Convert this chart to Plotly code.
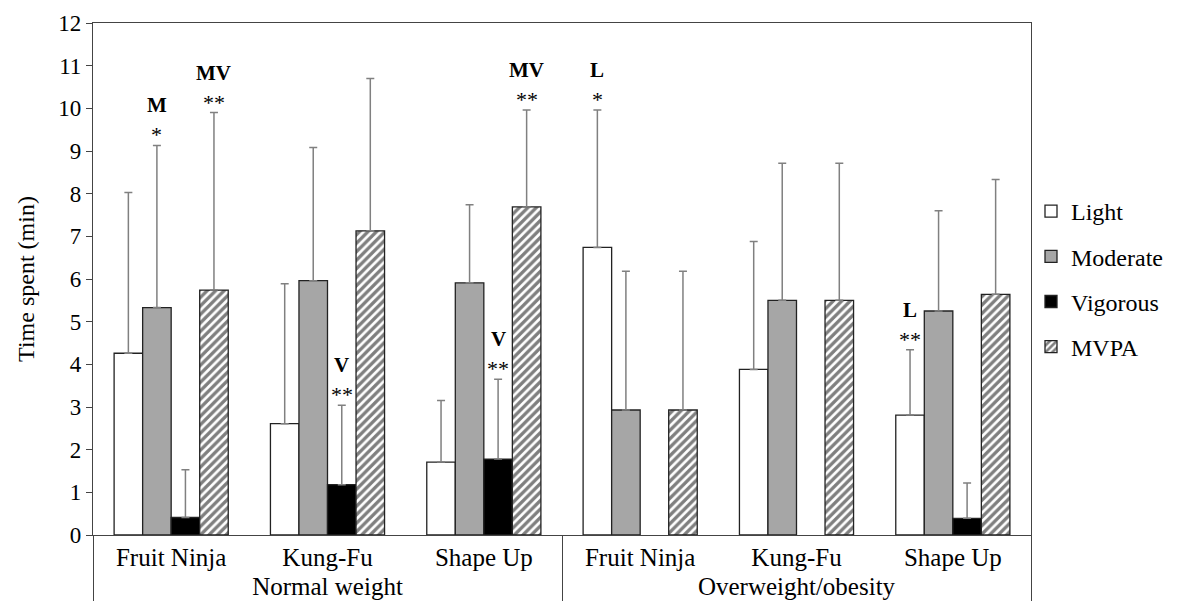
import plotly.graph_objects as go

# ---- data ----
weight_groups = ["Normal weight"] * 3 + ["Overweight/obesity"] * 3
games = ["Fruit Ninja", "Kung-Fu", "Shape Up"] * 2

light = [4.26, 2.61, 1.71, 6.74, 3.88, 2.81]
light_sd = [3.77, 3.28, 1.44, 3.22, 3.00, 1.53]
moderate = [5.33, 5.96, 5.91, 2.93, 5.50, 5.25]
moderate_sd = [3.80, 3.12, 1.83, 3.25, 3.21, 2.35]
vigorous = [0.41, 1.18, 1.78, None, None, 0.39]
vigorous_sd = [1.12, 1.86, 1.87, None, None, 0.83]
mvpa = [5.74, 7.13, 7.69, 2.93, 5.50, 5.64]
mvpa_sd = [4.16, 3.57, 2.27, 3.25, 3.21, 2.69]

series_names = ["Light", "Moderate", "Vigorous", "MVPA"]

# significance marks: (category index, series index, letter, stars)
sig_cat = [0, 0, 1, 2, 2, 3, 5]
sig_series = [1, 3, 2, 2, 3, 0, 0]
sig_letter = ["M", "MV", "V", "V", "MV", "L", "L"]
sig_stars = ["*", "**", "**", "**", "**", "*", "**"]

# ---- styling ----
FONT = "Liberation Serif"
BARGAP = 0.27
edge = "#222222"
err_color = "#808080"

values = [light, moderate, vigorous, mvpa]
sds = [light_sd, moderate_sd, vigorous_sd, mvpa_sd]
fills = ["#ffffff", "#a6a6a6", "#000000", "#ffffff"]

fig = go.Figure()
x2d = [weight_groups, games]
for i, name in enumerate(series_names):
    marker = dict(color=fills[i], line=dict(color=edge, width=1.3))
    if name == "MVPA":
        marker["pattern"] = dict(shape="/", fgcolor="#000000", bgcolor="#ffffff",
                                 size=6, solidity=0.55)
    fig.add_trace(go.Bar(
        x=x2d, y=values[i], name=name, legendgroup=name,
        marker=marker,
        error_y=dict(type="data", symmetric=False, array=sds[i],
                     arrayminus=[0] * len(sds[i]),
                     color=err_color, thickness=1.5, width=4),
    ))

# annotations above error bars
n_series = len(series_names)
bw = (1 - BARGAP) / n_series
for c, s, let, st in zip(sig_cat, sig_series, sig_letter, sig_stars):
    top = values[s][c] + sds[s][c]
    xpos = c - (1 - BARGAP) / 2 + (s + 0.5) * bw
    fig.add_annotation(
        x=xpos, y=top, xref="x", yref="y",
        text=st, showarrow=False,
        yanchor="bottom", xanchor="center", yshift=-4,
        font=dict(family=FONT, size=22, color="#000"),
    )
    fig.add_annotation(
        x=xpos, y=top, xref="x", yref="y",
        text=f"<b>{let}</b>", showarrow=False,
        yanchor="bottom", xanchor="center", yshift=26,
        font=dict(family=FONT, size=21, color="#000"),
    )

# page body has an 8px margin, so the figure is 8px smaller than the window
fig.update_layout(
    width=1169, height=600,
    margin=dict(l=85, r=146, t=15, b=73, autoexpand=False),
    paper_bgcolor="white", plot_bgcolor="white",
    barmode="group", bargap=BARGAP, bargroupgap=0,
    font=dict(family=FONT, size=25, color="#000"),
    legend=dict(x=1.0, y=0.5, xanchor="left", yanchor="middle",
                font=dict(family=FONT, size=24, color="#000"),
                traceorder="grouped", tracegroupgap=11, itemwidth=30,
                bgcolor="rgba(0,0,0,0)"),
    showlegend=True,
)
fig.update_xaxes(
    showline=True, linecolor="#444", linewidth=1.2, mirror=True,
    ticks="", showgrid=False, showdividers=True,
    dividercolor="#444", dividerwidth=1.2, automargin=False,
    tickfont=dict(family=FONT, size=25, color="#000"),
)
fig.update_yaxes(
    range=[0, 12], tickmode="array", tickvals=list(range(13)),
    showline=True, linecolor="#444", linewidth=1.2, mirror=True,
    ticks="outside", ticklen=6, tickcolor="#444",
    showgrid=False, zeroline=False, automargin=False,
    ticklabeloverflow="allow",
    tickfont=dict(family=FONT, size=23, color="#000"),
    title=dict(text="Time spent (min)", font=dict(family=FONT, size=24, color="#000"),
               standoff=16),
)

fig.write_html("out.html")
